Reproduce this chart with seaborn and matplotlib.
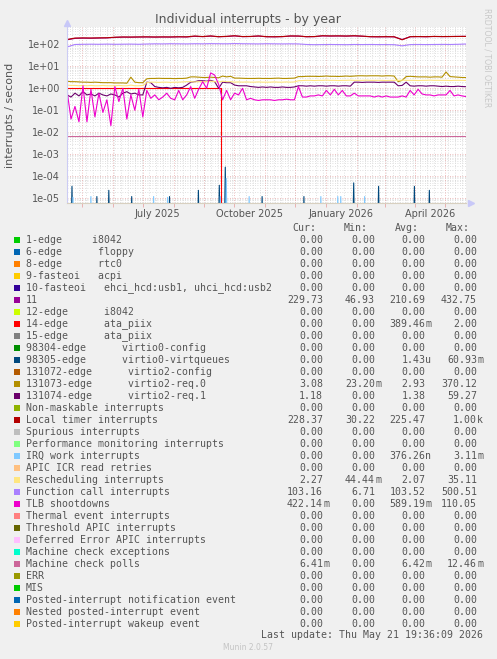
import numpy as np
import pandas as pd
import matplotlib
matplotlib.use("Agg")
import matplotlib.pyplot as plt
from matplotlib.patches import Rectangle
from matplotlib.ticker import LogLocator, NullFormatter
import seaborn as sns

W, H = 497, 659
BG = "#f0f0f0"
TXT = "#555555"
FLOOR = 1e-7  # zero rates sit below the visible log range

START = "2025-04-16"
END = "2026-05-21 19:36"

# ---- series sampled every ~4 days (101 points) ----
tlb_shootdowns = [
    0.8, 0.04, 0.15, 0.03, 1.3, 0.03, 0.9, 0.05, 0.6, 0.08,
    0.3, 0.02, 1.2, 0.25, 1.0, 0.04, 0.5, 0.1, 0.9, 0.05,
    0.8, 0.35, 0.5, 0.3, 0.4, 0.6, 0.35, 0.3, 0.8, 0.3,
    0.5, 1.2, 0.35, 0.9, 2.0, 1.0, 5.0, 4.0, 1.5, 0.3,
    0.8, 0.3, 0.6, 0.5, 1.0, 0.3, 0.35, 0.3, 0.28, 0.3,
    0.3, 0.3, 0.28, 0.3, 0.3, 0.32, 0.3, 0.3, 1.2, 0.4,
    0.4, 0.45, 0.45, 0.5, 0.45, 0.8, 0.5, 0.9, 0.5, 0.8,
    0.45, 0.45, 0.6, 0.45, 0.45, 0.45, 0.45, 0.4, 0.45, 0.4,
    0.45, 0.4, 0.4, 0.4, 0.45, 0.4, 0.8, 0.5, 0.9, 0.55,
    0.5, 0.5, 0.45, 0.5, 0.5, 0.5, 0.8, 0.45, 0.5, 0.45,
    0.42,
]
virtio2_req1 = [
    0.5, 0.4, 0.6, 0.45, 0.7, 0.5, 0.55, 0.45, 0.6, 0.5,
    0.45, 0.55, 0.5, 0.4, 0.6, 0.7, 0.55, 0.6, 0.5, 0.5,
    1.9, 1.8, 1.2, 1.1, 1.05, 1.1, 1.0, 1.1, 1.05, 1.1,
    1.4, 1.9, 2.0, 2.2, 2.2, 2.1, 2.3, 2.0, 1.0, 1.9,
    1.8, 1.8, 1.4, 1.3, 1.3, 1.3, 1.2, 1.15, 1.1, 1.15,
    1.1, 1.15, 1.1, 1.1, 1.15, 1.1, 1.1, 1.15, 1.3, 1.3,
    1.25, 1.3, 1.25, 1.3, 1.3, 1.25, 1.3, 1.3, 1.25, 1.3,
    1.3, 1.25, 1.9, 1.9, 1.85, 1.9, 1.9, 1.9, 1.85, 1.9,
    1.9, 1.9, 1.9, 1.3, 1.35, 1.9, 1.3, 1.25, 1.3, 1.3,
    1.25, 1.3, 1.3, 1.25, 1.2, 1.25, 1.2, 1.2, 1.25, 1.2,
    1.18,
]
virtio2_req0 = [
    2.1, 2.0, 2.0, 1.95, 1.9, 1.9, 1.85, 1.9, 1.85, 1.8,
    1.8, 1.8, 1.75, 1.75, 1.75, 1.7, 3.2, 1.9, 1.8, 1.8,
    2.7, 2.8, 2.8, 2.85, 2.8, 2.8, 2.8, 2.75, 2.8, 2.8,
    2.9, 3.3, 3.3, 3.2, 3.1, 3.1, 3.2, 3.1, 3.0, 3.6,
    3.3, 3.5, 2.9, 2.9, 2.85, 2.8, 2.8, 2.8, 2.85, 2.8,
    2.8, 2.8, 2.85, 2.9, 2.8, 2.8, 2.85, 2.9, 3.4, 3.4,
    3.5, 3.5, 3.5, 3.45, 3.5, 3.6, 3.5, 3.5, 3.45, 3.5,
    3.6, 3.5, 3.6, 3.7, 3.7, 3.65, 3.7, 3.7, 3.7, 3.6,
    3.7, 3.7, 3.6, 2.0, 2.3, 3.4, 3.5, 3.4, 3.3, 3.3,
    3.3, 3.2, 3.3, 3.3, 3.2, 5.5, 3.4, 3.3, 3.2, 3.1,
    3.08,
]
rescheduling = [
    1.4, 1.35, 1.35, 1.3, 1.35, 1.3, 1.35, 1.3, 1.3, 1.35,
    1.3, 1.3, 1.3, 1.35, 1.3, 1.3, 1.4, 1.3, 1.3, 1.35,
    1.8, 1.9, 1.9, 1.85, 1.9, 1.9, 1.85, 1.9, 1.9, 1.95,
    2.0, 2.0, 1.95, 2.0, 2.0, 2.0, 2.1, 2.0, 1.95, 2.1,
    2.0, 2.0, 1.9, 1.95, 1.9, 1.95, 1.9, 1.9, 1.95, 1.9,
    1.9, 1.9, 1.95, 1.9, 1.9, 1.95, 1.9, 1.95, 2.2, 2.25,
    2.3, 2.3, 2.25, 2.3, 2.3, 2.35, 2.3, 2.3, 2.25, 2.3,
    2.3, 2.35, 2.3, 2.3, 2.3, 2.35, 2.3, 2.3, 2.3, 2.3,
    2.25, 2.3, 2.3, 2.3, 2.35, 2.3, 2.3, 2.3, 2.25, 2.3,
    2.3, 2.35, 2.3, 2.3, 2.3, 2.3, 2.25, 2.3, 2.3, 2.3,
    2.27,
]

# ---- series sampled every ~8 days (51 points) ----
local_timer = [
    165, 192, 195, 193, 196, 198, 210, 215, 214, 216,
    218, 215, 217, 216, 220, 218, 238, 225, 240, 222,
    230, 245, 225, 228, 240, 222, 220, 225, 240, 238,
    222, 225, 245, 240, 242, 238, 245, 235, 222, 220,
    222, 220, 160, 222, 225, 222, 228, 225, 226, 227,
    228.37,
]
irq_11 = [
    160, 185, 190, 188, 192, 195, 205, 212, 210, 214,
    215, 212, 214, 213, 218, 215, 230, 222, 235, 220,
    226, 240, 222, 225, 236, 220, 218, 222, 236, 235,
    220, 222, 240, 236, 238, 235, 240, 232, 220, 218,
    220, 218, 165, 220, 223, 220, 226, 223, 225, 228,
    229.73,
]
function_call = [
    75, 98, 100, 101, 100, 102, 100, 101, 102, 100,
    103, 105, 104, 106, 105, 104, 106, 105, 107, 106,
    105, 108, 106, 105, 104, 106, 105, 104, 105, 104,
    98, 96, 97, 98, 97, 96, 98, 97, 98, 97,
    97, 96, 85, 97, 98, 97, 98, 99, 98, 100,
    103.16,
]
mc_polls = [0.0064, 0.0065, 0.0064, 0.0064, 0.0064, 0.00641]

# ---- step / spike series ----
ata_dates = ["2025-04-16", "2025-09-18", "2026-05-21"]
ata_rate = [1.0, 0.0, 0.0]

virtqueue_days = ["2025-04-21", "2025-05-16", "2025-05-28", "2025-06-20", "2025-07-28",
                  "2025-08-26", "2025-09-16", "2025-09-22", "2025-10-29", "2025-12-10",
                  "2026-01-29", "2026-02-23", "2026-03-31", "2026-04-15"]
virtqueue_rate = [3.5e-5, 1.2e-5, 2.3e-5, 1.2e-5, 1.2e-5,
                  2.3e-5, 3.9e-5, 2.6e-4, 1.2e-5, 1.2e-5,
                  5.0e-5, 3.5e-5, 3.5e-5, 2.3e-5]
irqwork_days = ["2025-04-16", "2025-04-22", "2025-05-10", "2025-07-12", "2025-07-26",
                "2025-09-17", "2025-09-23", "2025-10-16", "2025-12-27", "2026-01-13",
                "2026-01-16", "2026-02-09"]
irqwork_rate = [1.2e-5, 1.1e-5, 1.2e-5, 1.2e-5, 1.1e-5,
                1.2e-5, 8.0e-5, 1.2e-5, 1.2e-5, 1.2e-5,
                1.2e-5, 1.2e-5]

# ---- legend table ----
labels = [
    "1-edge     i8042", "6-edge      floppy", "8-edge      rtc0", "9-fasteoi   acpi",
    "10-fasteoi   ehci_hcd:usb1, uhci_hcd:usb2", "11", "12-edge      i8042",
    "14-edge      ata_piix", "15-edge      ata_piix", "98304-edge      virtio0-config",
    "98305-edge      virtio0-virtqueues", "131072-edge      virtio2-config",
    "131073-edge      virtio2-req.0", "131074-edge      virtio2-req.1",
    "Non-maskable interrupts", "Local timer interrupts", "Spurious interrupts",
    "Performance monitoring interrupts", "IRQ work interrupts", "APIC ICR read retries",
    "Rescheduling interrupts", "Function call interrupts", "TLB shootdowns",
    "Thermal event interrupts", "Threshold APIC interrupts", "Deferred Error APIC interrupts",
    "Machine check exceptions", "Machine check polls", "ERR", "MIS",
    "Posted-interrupt notification event", "Nested posted-interrupt event",
    "Posted-interrupt wakeup event",
]
colors = [
    "#00CC00", "#0066B3", "#FF8000", "#FFCC00", "#330099", "#990099", "#CCFF00",
    "#FF0000", "#808080", "#008F00", "#00487D", "#B35A00", "#B38F00", "#6B006B",
    "#8FB300", "#B30000", "#BEBEBE", "#80FF80", "#80C9FF", "#FFC080", "#FFE680",
    "#AA80FF", "#EE00CC", "#FF8080", "#666600", "#FFBFFF", "#00FFCC", "#CC6699",
    "#999900", "#00CC00", "#0066B3", "#FF8000", "#FFCC00",
]
Z = "0.00"
cur_vals = [Z, Z, Z, Z, Z, "229.73", Z, Z, Z, Z, Z, Z, "3.08", "1.18", Z, "228.37", Z,
            Z, Z, Z, "2.27", "103.16", "422.14m", Z, Z, Z, Z, "6.41m", Z, Z, Z, Z, Z]
min_vals = [Z, Z, Z, Z, Z, "46.93", Z, Z, Z, Z, Z, Z, "23.20m", Z, Z, "30.22", Z,
            Z, Z, Z, "44.44m", "6.71", Z, Z, Z, Z, Z, Z, Z, Z, Z, Z, Z]
avg_vals = [Z, Z, Z, Z, Z, "210.69", Z, "389.46m", Z, Z, "1.43u", Z, "2.93", "1.38", Z, "225.47", Z,
            Z, "376.26n", Z, "2.07", "103.52", "589.19m", Z, Z, Z, Z, "6.42m", Z, Z, Z, Z, Z]
max_vals = [Z, Z, Z, Z, Z, "432.75", Z, "2.00", Z, Z, "60.93m", Z, "370.12", "59.27", Z, "1.00k", Z,
            Z, "3.11m", Z, "35.11", "500.51", "110.05", Z, Z, Z, Z, "12.46m", Z, Z, Z, Z, Z]

x_labels = ["July 2025", "October 2025", "January 2026", "April 2026"]
x_label_dates = ["2025-07-16", "2025-10-16", "2026-01-16", "2026-04-16"]


def fx(px):
    return px / W


def fy(py):
    return 1 - py / H


def draw(dates, values, color, **kw):
    df = pd.DataFrame({"date": pd.to_datetime(dates), "rate": np.asarray(values, dtype=float)})
    df["rate"] = df["rate"].where(df["rate"] > 0, FLOOR)
    sns.lineplot(data=df, x="date", y="rate", color=color, lw=0.8, ax=ax,
                 legend=False, estimator=None, **kw)


def spike_series(days, rates):
    s = pd.Series(0.0, index=pd.date_range(START, END, freq="D"))
    for d, r in zip(days, rates):
        s[pd.Timestamp(d)] = r
    return s.index, s.values


fig = plt.figure(figsize=(W / 100, H / 100), dpi=100, facecolor=BG)
ax = fig.add_axes([fx(67), fy(203), 399 / W, 176 / H])
ax.set_facecolor("white")
ax.set_yscale("log")

dense = pd.date_range(START, END, periods=101)
sparse = pd.date_range(START, END, periods=51)
flat = pd.date_range(START, END, periods=len(mc_polls))

# drawn in the legend order, like munin does
draw(sparse, irq_11, colors[5])
draw(ata_dates, ata_rate, colors[7], drawstyle="steps-post")
draw(*spike_series(virtqueue_days, virtqueue_rate), colors[10])
draw(dense, virtio2_req0, colors[12])
draw(dense, virtio2_req1, colors[13])
draw(sparse, local_timer, colors[15])
draw(*spike_series(irqwork_days, irqwork_rate), colors[18])
draw(dense, rescheduling, colors[20])
draw(sparse, function_call, colors[21])
draw(dense, tlb_shootdowns, colors[22])
draw(flat, mc_polls, colors[27])

ax.set_xlim(pd.Timestamp(START), pd.Timestamp(END))
ax.set_ylim(6.1e-6, 611)
ax.set_xlabel("")
ax.set_ylabel("")

decades = [1e-5, 1e-4, 1e-3, 1e-2, 1e-1, 1e0, 1e1, 1e2]
ax.set_yticks(decades, labels=[f"{d:.0e}" for d in decades])
ax.yaxis.set_minor_locator(LogLocator(base=10, subs=np.arange(2, 10)))
ax.yaxis.set_minor_formatter(NullFormatter())
ax.tick_params(axis="y", which="both", length=0, pad=5, labelsize=7, labelcolor=TXT)

grid_ls = (0, (1, 2))
ax.grid(False)
ax.grid(which="major", axis="y", color="#e8a8a8", ls=grid_ls, lw=0.6)
ax.grid(which="minor", axis="y", color="#d6d6d6", ls=grid_ls, lw=0.6)
for d in pd.date_range("2025-04-14", END, freq="W-MON"):
    ax.axvline(d, color="#d6d6d6", ls=grid_ls, lw=0.6, zorder=0.5)
month_starts = pd.date_range("2025-05-01", END, freq="MS")
for d in month_starts:
    ax.axvline(d, color="#e8a8a8", ls=grid_ls, lw=0.6, zorder=0.6)
ax.set_axisbelow(True)

ax.set_xticks(pd.to_datetime(x_label_dates), labels=x_labels)
ax.set_xticks(month_starts, minor=True)
ax.tick_params(axis="x", which="major", length=0, pad=4, labelsize=7, labelcolor=TXT)
ax.tick_params(axis="x", which="minor", length=3, color="#e8a8a8", width=0.6)

for side in ("top", "right"):
    ax.spines[side].set_visible(False)
ax.spines["left"].set_color("#ccccf4")
ax.spines["bottom"].set_color("#d8d0c0")
ax.spines["left"].set_linewidth(0.8)
ax.spines["bottom"].set_linewidth(0.8)
ax.plot([1.012], [0], marker=">", ms=4, color="#c8c8f8", transform=ax.transAxes, clip_on=False)
ax.plot([0], [1.022], marker="^", ms=4, color="#c8c8f8", transform=ax.transAxes, clip_on=False)

# titles and side texts
fig.text(fx(248), fy(19), "Individual interrupts - by year", ha="center", va="center",
         fontsize=9, color=TXT)
fig.text(fx(10), fy(115), "interrupts / second", rotation=90, ha="center", va="center",
         fontsize=8, color=TXT)
fig.text(fx(487), fy(58), "RRDTOOL / TOBI OETIKER", rotation=-90, ha="center", va="center",
         fontsize=5.6, color="#c8c8c8")

# legend table
mono = dict(family="DejaVu Sans Mono", fontsize=7.15, color=TXT, va="center")
edges = [323, 375, 425.5, 477]
for name, edge in zip(["Cur:", "Min:", "Avg:", "Max:"], edges):
    fig.text(fx(edge - 7), fy(228), name, ha="right", **mono)

for k, lab in enumerate(labels):
    yc = 240 + 12 * k
    fig.patches.append(Rectangle((fx(14), fy(yc + 3)), 6 / W, 6 / H, transform=fig.transFigure,
                                 facecolor=colors[k], edgecolor="none"))
    fig.text(fx(26), fy(yc), lab, ha="left", **mono)
    for col, edge in zip([cur_vals, min_vals, avg_vals, max_vals], edges):
        v = col[k]
        unit = v[-1] if v[-1].isalpha() else ""
        num = v[:-1] if unit else v
        fig.text(fx(edge), fy(yc), num, ha="right", **mono)
        if unit:
            fig.text(fx(edge), fy(yc), unit, ha="left", **mono)

fig.text(fx(483), fy(635), "Last update: Thu May 21 19:36:09 2026", ha="right", **mono)
fig.text(fx(248), fy(648), "Munin 2.0.57", ha="center", va="center", fontsize=5.5, color="#c4c4c4")

fig.savefig("out.png", dpi=100, facecolor=BG)
